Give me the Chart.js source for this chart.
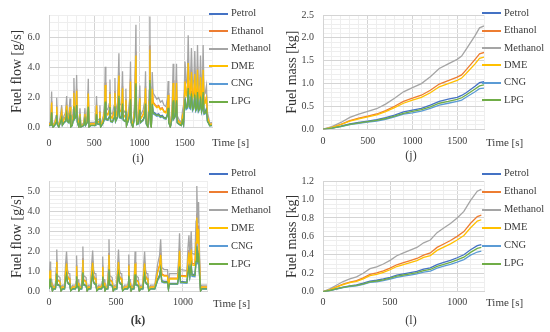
<!DOCTYPE html>
<html>
<head>
<meta charset="utf-8">
<script src="https://cdn.jsdelivr.net/npm/chart.js@4.4.0/dist/chart.umd.min.js"></script>
<style>
    body { margin: 0; width: 550px; height: 332px; position: relative; overflow: hidden; background: #fff;
           font-family: "Liberation Serif", "DejaVu Serif", serif; color: #3a3a3a; }
    canvas { position: absolute; }
    .txt { position: absolute; white-space: nowrap; }
    .leg { position: absolute; white-space: nowrap; height: 14px; line-height: 14px; transform: translateY(-7px); font-size: 10.5px; }
    .leg span { display: inline-block; width: 19px; height: 2px; vertical-align: middle; margin-right: 3px; }
</style>
</head>
<body>
<canvas id="chartI" width="275" height="166" style="left:0;top:0"></canvas>
<canvas id="chartJ" width="275" height="166" style="left:275px;top:0"></canvas>
<canvas id="chartK" width="275" height="166" style="left:0;top:166px"></canvas>
<canvas id="chartL" width="275" height="166" style="left:275px;top:166px"></canvas>
<script>
// Fuels and colours (same order in every panel)
const fuels = ['Petrol', 'Ethanol', 'Methanol', 'DME', 'CNG', 'LPG'];
const fuelColors = ['#4472C4', '#ED7D31', '#A5A5A5', '#FFC000', '#5B9BD5', '#70AD47'];

// (i) fuel flow over the 1800 s cycle [g/s]
const flowTimesI = [0,12,22,29,35,45,62,78,85,92, 108,128,140,148,166,183,195,202,218,232,
    240,256,268,275,283,298,305,313,330,342, 352,385,397,405,422,434,442,460,515,525,
    533,554,562,570,600,614,621,628,650,665, 673,680,700,720,728,735,758,772,780,800,
    812,820,840,849,856,880,892,900,908,925, 945,960,968,985,1003,1010,1040,1058,1066,1074,
    1092,1106,1114,1121,1130,1140,1150,1170,1190,1210, 1230,1250,1270,1292,1308,1316,1323,1340,1360,1371,
    1378,1395,1408,1416,1440,1462,1474,1485,1495,1502, 1515,1528,1537,1548,1562,1573,1585,1600,1610,1620,
    1632,1640,1650,1665,1673,1685,1695,1702,1712,1725, 1739,1750,1762,1775,1800];
const petrolFlowI = [0.16,0.16,0.41,1.1,0.28,0.05,0.16,0.37,0.92,0.23, 0.05,0.41,0.69,0.18,0.37,0.46,0.97,0.46,0.37,0.9,
    0.05,0.16,0.55,1.52,0.64,0.78,1.61,0.41,0.05,0.6, 0.05,0.16,0.6,0.18,0.37,1.5,0.05,0.16,0.16,0.97,
    0.28,0.23,0.69,0.05,0.37,0.74,1.86,0.6,0.55,0.74, 1.47,0.46,0.41,0.69,1.52,0.46,0.78,2.28,0.74,0.69,
    1.73,0.55,0.46,1.2,0.14,0.6,0.92,2.02,0.37,0.05, 0.74,3.15,0.23,0.28,1.29,0.37,0.55,0.83,1.73,0.28,
    0.05,1.15,3.4,0.23,0.05,1.7,1.06,0.97,0.87,0.92, 0.78,0.83,0.69,0.64,0.92,1.43,0.37,0.05,0.69,1.96,
    0.64,0.83,1.96,0.37,0.23,0.16,0.51,0.23,1.29,2.02, 1.38,1.47,2.83,1.52,1.43,2.44,1.29,1.47,2.35,1.24,
    1.38,2.53,1.2,1.38,2.21,1.15,1.38,2.53,1.01,1.06, 1.29,0.46,0.32,0.14,0.16];
const ethanolFlowI = [0.26,0.26,0.67,1.78,0.44,0.07,0.26,0.59,1.48,0.37, 0.07,0.67,1.11,0.3,0.59,0.74,1.55,0.74,0.59,1.44,
    0.07,0.26,0.89,2.44,1.04,1.26,2.59,0.67,0.07,0.96, 0.07,0.26,0.96,0.3,0.59,2.41,0.07,0.26,0.26,1.55,
    0.44,0.37,1.11,0.07,0.59,1.18,3.0,0.96,0.89,1.18, 2.37,0.74,0.67,1.11,2.44,0.74,1.26,3.66,1.18,1.11,
    2.78,0.89,0.74,1.92,0.22,0.96,1.48,3.26,0.59,0.07, 1.18,5.07,0.37,0.44,2.07,0.59,0.89,1.33,2.78,0.44,
    0.07,1.85,5.48,0.37,0.07,2.74,1.7,1.55,1.41,1.48, 1.26,1.33,1.11,1.04,1.48,2.29,0.59,0.07,1.11,3.15,
    1.04,1.33,3.15,0.59,0.37,0.26,0.81,0.37,2.07,3.26, 2.22,2.37,4.55,2.44,2.29,3.92,2.07,2.37,3.77,2.0,
    2.22,4.07,1.92,2.22,3.55,1.85,2.22,4.07,1.63,1.7, 2.07,0.74,0.52,0.22,0.26];
const methanolFlowI = [0.35,0.35,0.9,2.4,0.6,0.1,0.35,0.8,2.0,0.5, 0.1,0.9,1.5,0.4,0.8,1.0,2.1,1.0,0.8,1.95,
    0.1,0.35,1.2,3.3,1.4,1.7,3.5,0.9,0.1,1.3, 0.1,0.35,1.3,0.4,0.8,3.25,0.1,0.35,0.35,2.1,
    0.6,0.5,1.5,0.1,0.8,1.6,4.05,1.3,1.2,1.6, 3.2,1.0,0.9,1.5,3.3,1.0,1.7,4.95,1.6,1.5,
    3.75,1.2,1.0,2.6,0.3,1.3,2.0,4.4,0.8,0.1, 1.6,6.85,0.5,0.6,2.8,0.8,1.2,1.8,3.75,0.6,
    0.1,2.5,7.4,0.5,0.1,3.7,2.3,2.1,1.9,2.0, 1.7,1.8,1.5,1.4,2.0,3.1,0.8,0.1,1.5,4.25,
    1.4,1.8,4.25,0.8,0.5,0.35,1.1,0.5,2.8,4.4, 3.0,3.2,6.15,3.3,3.1,5.3,2.8,3.2,5.1,2.7,
    3.0,5.5,2.6,3.0,4.8,2.5,3.0,5.5,2.2,2.3, 2.8,1.0,0.7,0.3,0.35];
const dmeFlowI = [0.25,0.25,0.63,1.68,0.42,0.07,0.25,0.56,1.4,0.35, 0.07,0.63,1.05,0.28,0.56,0.7,1.47,0.7,0.56,1.37,
    0.07,0.25,0.84,2.31,0.98,1.19,2.45,0.63,0.07,0.91, 0.07,0.25,0.91,0.28,0.56,2.28,0.07,0.25,0.25,1.47,
    0.42,0.35,1.05,0.07,0.56,1.12,2.84,0.91,0.84,1.12, 2.24,0.7,0.63,1.05,2.31,0.7,1.19,3.47,1.12,1.05,
    2.63,0.84,0.7,1.82,0.21,0.91,1.4,3.08,0.56,0.07, 1.12,4.8,0.35,0.42,1.96,0.56,0.84,1.26,2.63,0.42,
    0.07,1.75,5.18,0.35,0.07,2.59,1.61,1.47,1.33,1.4, 1.19,1.26,1.05,0.98,1.4,2.17,0.56,0.07,1.05,2.98,
    0.98,1.26,2.98,0.56,0.35,0.25,0.77,0.35,1.96,3.08, 2.1,2.24,4.31,2.31,2.17,3.71,1.96,2.24,3.57,1.89,
    2.1,3.85,1.82,2.1,3.36,1.75,2.1,3.85,1.54,1.61, 1.96,0.7,0.49,0.21,0.25];
const cngFlowI = [0.14,0.14,0.36,0.96,0.24,0.04,0.14,0.32,0.8,0.2, 0.04,0.36,0.6,0.16,0.32,0.4,0.84,0.4,0.32,0.78,
    0.04,0.14,0.48,1.32,0.56,0.68,1.4,0.36,0.04,0.52, 0.04,0.14,0.52,0.16,0.32,1.3,0.04,0.14,0.14,0.84,
    0.24,0.2,0.6,0.04,0.32,0.64,1.62,0.52,0.48,0.64, 1.28,0.4,0.36,0.6,1.32,0.4,0.68,1.98,0.64,0.6,
    1.5,0.48,0.4,1.04,0.12,0.52,0.8,1.76,0.32,0.04, 0.64,2.74,0.2,0.24,1.12,0.32,0.48,0.72,1.5,0.24,
    0.04,1.0,2.96,0.2,0.04,1.48,0.92,0.84,0.76,0.8, 0.68,0.72,0.6,0.56,0.8,1.24,0.32,0.04,0.6,1.7,
    0.56,0.72,1.7,0.32,0.2,0.14,0.44,0.2,1.12,1.76, 1.2,1.28,2.46,1.32,1.24,2.12,1.12,1.28,2.04,1.08,
    1.2,2.2,1.04,1.2,1.92,1.0,1.2,2.2,0.88,0.92, 1.12,0.4,0.28,0.12,0.14];
const lpgFlowI = [0.15,0.15,0.39,1.03,0.26,0.04,0.15,0.34,0.86,0.22, 0.04,0.39,0.65,0.17,0.34,0.43,0.9,0.43,0.34,0.84,
    0.04,0.15,0.52,1.42,0.6,0.73,1.51,0.39,0.04,0.56, 0.04,0.15,0.56,0.17,0.34,1.4,0.04,0.15,0.15,0.9,
    0.26,0.22,0.65,0.04,0.34,0.69,1.74,0.56,0.52,0.69, 1.38,0.43,0.39,0.65,1.42,0.43,0.73,2.13,0.69,0.65,
    1.61,0.52,0.43,1.12,0.13,0.56,0.86,1.89,0.34,0.04, 0.69,2.95,0.22,0.26,1.2,0.34,0.52,0.77,1.61,0.26,
    0.04,1.08,3.18,0.22,0.04,1.59,0.99,0.9,0.82,0.86, 0.73,0.77,0.65,0.6,0.86,1.33,0.34,0.04,0.65,1.83,
    0.6,0.77,1.83,0.34,0.22,0.15,0.47,0.22,1.2,1.89, 1.29,1.38,2.64,1.42,1.33,2.28,1.2,1.38,2.19,1.16,
    1.29,2.37,1.12,1.29,2.06,1.08,1.29,2.37,0.95,0.99, 1.2,0.43,0.3,0.13,0.15];

// (j) cumulative fuel mass over the 1800 s cycle [kg]
const massTimesJ = [0,100,200,300,400,500,600,700,800,900,1000,1100,1200,1300,1400,1500,1550,1600,1700,1750,1800];
const petrolMassJ = [0,0.028,0.07,0.12,0.15,0.18,0.21,0.255,0.31,0.38,0.42,0.46,0.53,0.61,0.66,0.70,0.74,0.80,0.94,1.02,1.04];
const ethanolMassJ = [0,0.045,0.11,0.19,0.245,0.29,0.335,0.41,0.505,0.61,0.68,0.745,0.855,0.99,1.065,1.14,1.19,1.30,1.53,1.65,1.68];
const methanolMassJ = [0,0.06,0.15,0.26,0.33,0.39,0.45,0.55,0.68,0.82,0.91,1.0,1.15,1.33,1.43,1.53,1.6,1.75,2.05,2.22,2.26];
const dmeMassJ = [0,0.042,0.105,0.18,0.23,0.27,0.315,0.385,0.475,0.57,0.64,0.70,0.80,0.93,1.0,1.07,1.12,1.22,1.43,1.55,1.58];
const cngMassJ = [0,0.024,0.06,0.104,0.13,0.155,0.18,0.22,0.27,0.33,0.36,0.40,0.46,0.53,0.57,0.61,0.64,0.70,0.82,0.89,0.90];
const lpgMassJ = [0,0.026,0.065,0.11,0.14,0.167,0.194,0.236,0.29,0.35,0.39,0.43,0.49,0.57,0.61,0.655,0.69,0.75,0.88,0.95,0.97];

// (k) fuel flow over the 1180 s cycle [g/s]
const flowTimesK = [0,4,8,12,20,26,32,48,54,58,63,82,90,100,116,124,131,138,146,155,162,176,
    197,202,206,210,218,223,230,244,249,253,258,277,285,295,311,319,326,333,341,350,357,371,
    392,397,401,405,413,418,425,439,444,448,453,472,480,490,506,513,519,526,534,543,550,564,
    587,592,596,600,608,613,620,634,639,643,648,667,675,685,701,708,714,721,729,738,745,759,
    790,812,826,834,842,860,885,892,900,960,968,975,982,1030,1038,1045,1052,1062,1068,1090,
    1098,1104,1110,1117,1124,1132,1140,1180];
const petrolFlowK = [0.15,0.15,0.69,0.28,0.28,0.05,0.15,0.15,0.55,0.97,0.37,0.32,0.05,0.15,0.15,0.64,0.92,0.51,0.41,0.41,0.05,0.15,
    0.15,0.23,0.83,0.28,0.28,0.05,0.15,0.15,0.55,1.04,0.37,0.32,0.05,0.15,0.15,0.64,0.94,0.51,0.41,0.41,0.05,0.15,
    0.15,0.23,0.81,0.28,0.28,0.05,0.15,0.15,0.6,1.2,0.37,0.32,0.05,0.15,0.15,0.64,0.97,0.51,0.41,0.41,0.05,0.15,
    0.15,0.23,0.85,0.28,0.28,0.05,0.15,0.15,0.55,0.92,0.37,0.32,0.05,0.15,0.15,0.64,0.92,0.51,0.41,0.41,0.05,0.15,
    0.15,0.64,0.83,1.2,0.55,0.51,0.51,0.14,0.41,0.41,0.74,1.33,0.51,0.48,1.01,1.29,0.83,1.38,0.87,0.85,
    1.61,2.42,1.56,2.05,0.92,0.05,0.15,0.15];
const ethanolFlowK = [0.24,0.24,1.11,0.44,0.44,0.07,0.24,0.24,0.89,1.55,0.59,0.52,0.07,0.24,0.24,1.04,1.48,0.81,0.67,0.67,0.07,0.24,
    0.24,0.37,1.33,0.44,0.44,0.07,0.24,0.24,0.89,1.67,0.59,0.52,0.07,0.24,0.24,1.04,1.52,0.81,0.67,0.67,0.07,0.24,
    0.24,0.37,1.3,0.44,0.44,0.07,0.24,0.24,0.96,1.92,0.59,0.52,0.07,0.24,0.24,1.04,1.55,0.81,0.67,0.67,0.07,0.24,
    0.24,0.37,1.37,0.44,0.44,0.07,0.24,0.24,0.89,1.48,0.59,0.52,0.07,0.24,0.24,1.04,1.48,0.81,0.67,0.67,0.07,0.24,
    0.24,1.04,1.33,1.92,0.89,0.81,0.81,0.22,0.67,0.67,1.18,2.15,0.81,0.78,1.63,2.07,1.33,2.22,1.41,1.37,
    2.59,3.89,2.52,3.29,1.48,0.07,0.24,0.24];
const methanolFlowK = [0.33,0.33,1.5,0.6,0.6,0.1,0.33,0.33,1.2,2.1,0.8,0.7,0.1,0.33,0.33,1.4,2.0,1.1,0.9,0.9,0.1,0.33,
    0.33,0.5,1.8,0.6,0.6,0.1,0.33,0.33,1.2,2.25,0.8,0.7,0.1,0.33,0.33,1.4,2.05,1.1,0.9,0.9,0.1,0.33,
    0.33,0.5,1.75,0.6,0.6,0.1,0.33,0.33,1.3,2.6,0.8,0.7,0.1,0.33,0.33,1.4,2.1,1.1,0.9,0.9,0.1,0.33,
    0.33,0.5,1.85,0.6,0.6,0.1,0.33,0.33,1.2,2.0,0.8,0.7,0.1,0.33,0.33,1.4,2.0,1.1,0.9,0.9,0.1,0.33,
    0.33,1.4,1.8,2.6,1.2,1.1,1.1,0.3,0.9,0.9,1.6,2.9,1.1,1.05,2.2,2.8,1.8,3.0,1.9,1.85,
    3.5,5.25,3.4,4.45,2.0,0.1,0.33,0.33];
const dmeFlowK = [0.23,0.23,1.05,0.42,0.42,0.07,0.23,0.23,0.84,1.47,0.56,0.49,0.07,0.23,0.23,0.98,1.4,0.77,0.63,0.63,0.07,0.23,
    0.23,0.35,1.26,0.42,0.42,0.07,0.23,0.23,0.84,1.58,0.56,0.49,0.07,0.23,0.23,0.98,1.44,0.77,0.63,0.63,0.07,0.23,
    0.23,0.35,1.23,0.42,0.42,0.07,0.23,0.23,0.91,1.82,0.56,0.49,0.07,0.23,0.23,0.98,1.47,0.77,0.63,0.63,0.07,0.23,
    0.23,0.35,1.3,0.42,0.42,0.07,0.23,0.23,0.84,1.4,0.56,0.49,0.07,0.23,0.23,0.98,1.4,0.77,0.63,0.63,0.07,0.23,
    0.23,0.98,1.26,1.82,0.84,0.77,0.77,0.21,0.63,0.63,1.12,2.03,0.77,0.74,1.54,1.96,1.26,2.1,1.33,1.3,
    2.45,3.68,2.38,3.12,1.4,0.07,0.23,0.23];
const cngFlowK = [0.13,0.13,0.6,0.24,0.24,0.04,0.13,0.13,0.48,0.84,0.32,0.28,0.04,0.13,0.13,0.56,0.8,0.44,0.36,0.36,0.04,0.13,
    0.13,0.2,0.72,0.24,0.24,0.04,0.13,0.13,0.48,0.9,0.32,0.28,0.04,0.13,0.13,0.56,0.82,0.44,0.36,0.36,0.04,0.13,
    0.13,0.2,0.7,0.24,0.24,0.04,0.13,0.13,0.52,1.04,0.32,0.28,0.04,0.13,0.13,0.56,0.84,0.44,0.36,0.36,0.04,0.13,
    0.13,0.2,0.74,0.24,0.24,0.04,0.13,0.13,0.48,0.8,0.32,0.28,0.04,0.13,0.13,0.56,0.8,0.44,0.36,0.36,0.04,0.13,
    0.13,0.56,0.72,1.04,0.48,0.44,0.44,0.12,0.36,0.36,0.64,1.16,0.44,0.42,0.88,1.12,0.72,1.2,0.76,0.74,
    1.4,2.1,1.36,1.78,0.8,0.04,0.13,0.13];
const lpgFlowK = [0.14,0.14,0.65,0.26,0.26,0.04,0.14,0.14,0.52,0.9,0.34,0.3,0.04,0.14,0.14,0.6,0.86,0.47,0.39,0.39,0.04,0.14,
    0.14,0.22,0.77,0.26,0.26,0.04,0.14,0.14,0.52,0.97,0.34,0.3,0.04,0.14,0.14,0.6,0.88,0.47,0.39,0.39,0.04,0.14,
    0.14,0.22,0.75,0.26,0.26,0.04,0.14,0.14,0.56,1.12,0.34,0.3,0.04,0.14,0.14,0.6,0.9,0.47,0.39,0.39,0.04,0.14,
    0.14,0.22,0.8,0.26,0.26,0.04,0.14,0.14,0.52,0.86,0.34,0.3,0.04,0.14,0.14,0.6,0.86,0.47,0.39,0.39,0.04,0.14,
    0.14,0.6,0.77,1.12,0.52,0.47,0.47,0.13,0.39,0.39,0.69,1.25,0.47,0.45,0.95,1.2,0.77,1.29,0.82,0.8,
    1.51,2.26,1.46,1.91,0.86,0.04,0.14,0.14];

// (l) cumulative fuel mass over the 1180 s cycle [kg]
const massTimesL = [0,50,100,150,200,250,300,350,400,450,500,550,600,650,700,750,800,850,900,950,1000,1050,1100,1150,1180];
const petrolMassL = [0,0.014,0.032,0.05,0.064,0.074,0.092,0.115,0.124,0.138,0.156,0.179,0.193,0.207,0.221,0.244,0.258,0.294,0.317,0.34,0.368,0.40,0.455,0.50,0.51];
const ethanolMassL = [0,0.022,0.052,0.082,0.105,0.12,0.15,0.187,0.203,0.225,0.255,0.292,0.315,0.337,0.36,0.397,0.42,0.48,0.517,0.555,0.60,0.652,0.742,0.815,0.83];
const methanolMassL = [0,0.03,0.07,0.11,0.14,0.16,0.20,0.25,0.27,0.30,0.34,0.39,0.42,0.45,0.48,0.53,0.56,0.64,0.69,0.74,0.80,0.87,0.99,1.09,1.11];
const dmeMassL = [0,0.021,0.049,0.077,0.098,0.112,0.14,0.175,0.189,0.21,0.238,0.273,0.294,0.315,0.336,0.371,0.392,0.448,0.483,0.518,0.56,0.609,0.693,0.765,0.78];
const cngMassL = [0,0.012,0.028,0.044,0.056,0.064,0.08,0.10,0.108,0.12,0.136,0.156,0.168,0.18,0.192,0.212,0.224,0.256,0.276,0.296,0.32,0.348,0.396,0.43,0.44];
const lpgMassL = [0,0.013,0.03,0.047,0.06,0.069,0.086,0.107,0.116,0.129,0.146,0.168,0.181,0.194,0.206,0.228,0.241,0.275,0.297,0.318,0.344,0.374,0.426,0.47,0.48];

// Panel layouts (page pixels)
const panels = [
    { canvas: 'chartI', times: flowTimesI,
      series: [petrolFlowI, ethanolFlowI, methanolFlowI, dmeFlowI, cngFlowI, lpgFlowI],
      yTitle: 'Fuel flow [g/s]', xMax: 1800, yMax: 7.5, yMajor: 2, yMinor: 0.5,
      areaLeft: 49, areaRight: 212, areaTop: 7.7, areaBottom: 127.7, xPad: 10,
      legendX: 209, legendTop: 13, legendStep: 17.6, timeX: 212, timeY: 142,
      label: '(i)', labelX: 138, labelY: 158, bold: false },
    { canvas: 'chartJ', times: massTimesJ,
      series: [petrolMassJ, ethanolMassJ, methanolMassJ, dmeMassJ, cngMassJ, lpgMassJ],
      yTitle: 'Fuel mass [kg]', xMax: 1800, yMax: 2.5, yMajor: 0.5, yMinor: 0.1,
      areaLeft: 48, areaRight: 209, areaTop: 7.3, areaBottom: 129.3, xPad: 6,
      legendX: 482, legendTop: 12.7, legendStep: 17.4, timeX: 486, timeY: 141.7,
      label: '(j)', labelX: 411, labelY: 155, bold: false },
    { canvas: 'chartK', times: flowTimesK,
      series: [petrolFlowK, ethanolFlowK, methanolFlowK, dmeFlowK, cngFlowK, lpgFlowK],
      yTitle: 'Fuel flow [g/s]', xMax: 1180, yMax: 5.5, yMajor: 1, yMinor: 0.2,
      areaLeft: 49, areaRight: 207, areaTop: 4.2, areaBottom: 125.7, xPad: 5,
      legendX: 209, legendTop: 173.3, legendStep: 18.1, timeX: 213, timeY: 302.7,
      label: '(k)', labelX: 138, labelY: 320, bold: true },
    { canvas: 'chartL', times: massTimesL,
      series: [petrolMassL, ethanolMassL, methanolMassL, dmeMassL, cngMassL, lpgMassL],
      yTitle: 'Fuel mass [kg]', xMax: 1200, yMax: 1.2, yMajor: 0.2, yMinor: 0.05,
      areaLeft: 48, areaRight: 209, areaTop: 4.7, areaBottom: 125.7, xPad: 5,
      legendX: 482, legendTop: 173.3, legendStep: 18, timeX: 486, timeY: 302,
      label: '(l)', labelX: 411, labelY: 320, bold: false },
];

const tickColor = '#404040';
const majorGrid = '#d4d4d4';
const minorGrid = '#eeeeee';

/**
 * True when value is a multiple of step (tolerant of float noise)
 */
function isMultiple(value, step) {
    const r = value / step;
    return Math.abs(r - Math.round(r)) < 1e-6;
}

/**
 * Add a positioned text element to the page
 */
function addText(text, left, top, style) {
    const el = document.createElement('div');
    el.className = 'txt';
    el.textContent = text;
    el.style.left = left + 'px';
    el.style.top = top + 'px';
    Object.assign(el.style, style);
    document.body.appendChild(el);
}

/**
 * Build one panel: chart, legend and labels
 */
function buildPanel(p) {
    // Later fuels are painted on top (LPG uppermost), as in the original
    const datasets = fuels.map((name, i) => ({
        label: name,
        data: p.times.map((t, j) => ({ x: t, y: p.series[i][j] })),
        borderColor: fuelColors[i],
        backgroundColor: fuelColors[i],
        borderWidth: 1.3,
        pointRadius: 0,
        tension: 0,
        order: fuels.length - i,
    }));

    new Chart(document.getElementById(p.canvas), {
        type: 'line',
        data: { datasets: datasets },
        options: {
            responsive: false,
            animation: false,
            events: [],
            layout: { padding: { top: p.areaTop, right: 275 - p.areaRight, left: 0, bottom: 0 } },
            plugins: { legend: { display: false }, tooltip: { enabled: false } },
            scales: {
                x: {
                    type: 'linear', min: 0, max: p.xMax,
                    ticks: {
                        stepSize: 100, autoSkip: false, maxRotation: 0, maxTicksLimit: 1000,
                        padding: p.xPad, color: tickColor,
                        font: { family: '"Liberation Serif", serif', size: 10 },
                        callback: v => isMultiple(v, 500) ? String(v) : '',
                    },
                    grid: { drawTicks: false, color: ctx => isMultiple(ctx.tick.value, 500) ? majorGrid : minorGrid },
                    border: { color: majorGrid },
                    afterFit: s => { s.height = 166 - p.areaBottom; },
                },
                y: {
                    min: 0, max: p.yMax,
                    ticks: {
                        stepSize: p.yMinor, autoSkip: false, maxTicksLimit: 1000,
                        padding: 9, color: tickColor,
                        font: { family: '"Liberation Serif", serif', size: 10 },
                        callback: v => isMultiple(v, p.yMajor) ? v.toFixed(1) : '',
                    },
                    grid: { drawTicks: false, color: ctx => isMultiple(ctx.tick.value, p.yMajor) ? majorGrid : minorGrid },
                    border: { color: majorGrid },
                    title: {
                        display: true, text: p.yTitle, color: '#333',
                        font: { family: '"Liberation Serif", serif', size: 14 },
                        padding: { top: 9, bottom: 0 },
                    },
                    afterFit: s => { s.width = p.areaLeft; },
                },
            },
        },
    });

    // Legend on the right
    fuels.forEach((name, i) => {
        const row = document.createElement('div');
        row.className = 'leg';
        row.style.left = p.legendX + 'px';
        row.style.top = (p.legendTop + i * p.legendStep) + 'px';
        row.innerHTML = '<span style="background:' + fuelColors[i] + '"></span>' + name;
        document.body.appendChild(row);
    });

    addText('Time [s]', p.timeX, p.timeY - 7, { fontSize: '11px', lineHeight: '14px' });
    addText(p.label, p.labelX, p.labelY - 8, { fontSize: '12px', lineHeight: '16px',
        transform: 'translateX(-50%)', fontWeight: p.bold ? 'bold' : 'normal' });
}

panels.forEach(buildPanel);
</script>
</body>
</html>
